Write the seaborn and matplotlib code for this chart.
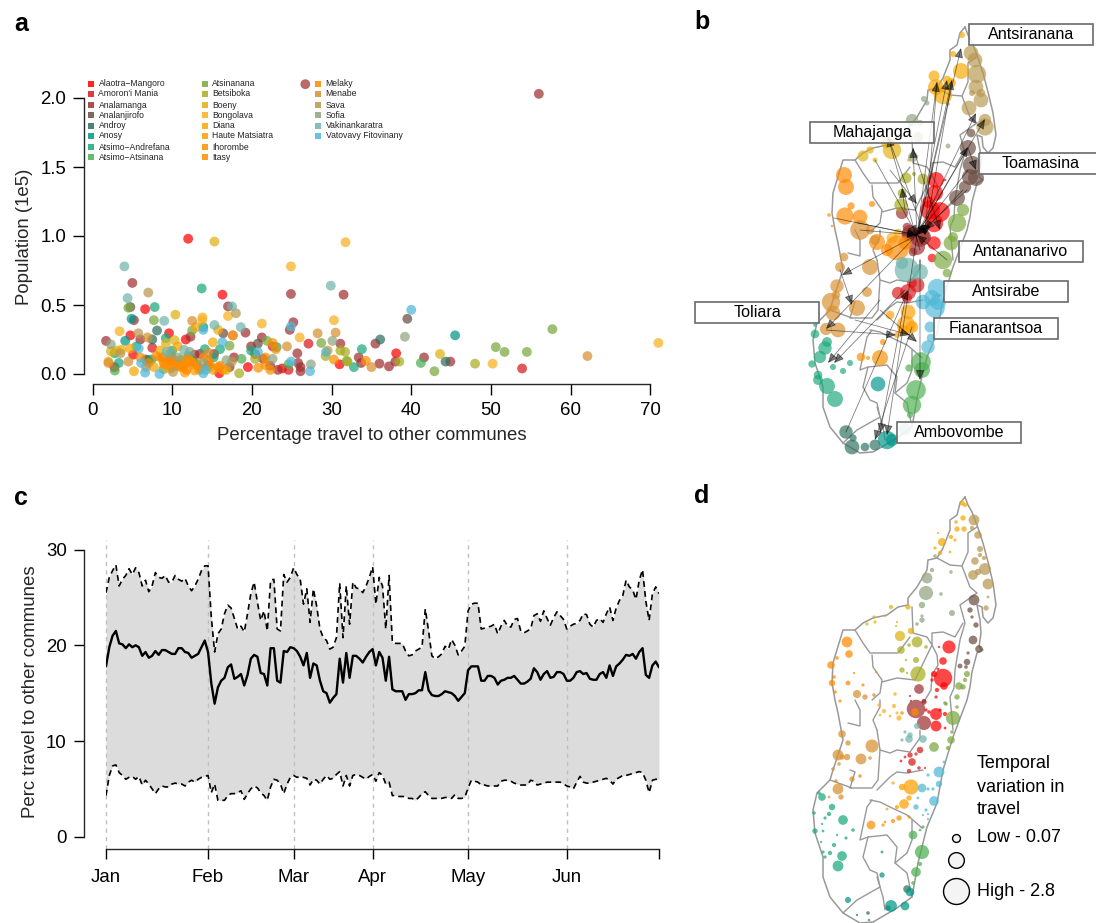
import numpy as np
import pandas as pd
import matplotlib
matplotlib.use('Agg')
import matplotlib.pyplot as plt
from matplotlib.patches import Rectangle
import seaborn as sns

regions = ['Alaotra\u2212Mangoro', "Amoron'i Mania", 'Analamanga', 'Analanjirofo', 'Androy', 'Anosy',
           'Atsimo\u2212Andrefana', 'Atsimo\u2212Atsinana', 'Atsinanana', 'Betsiboka', 'Boeny', 'Bongolava',
           'Diana', 'Haute Matsiatra', 'Ihorombe', 'Itasy', 'Melaky', 'Menabe', 'Sava', 'Sofia',
           'Vakinankaratra', 'Vatovavy Fitovinany']
region_colors = ['#ff0000', '#d7191c', '#a03030', '#6b4c40', '#2f6f5f', '#009688', '#1aa87a', '#4caf50',
                 '#7aa83c', '#a8ac20', '#e0b010', '#f8b020', '#f8a800', '#ff9f00', '#f89000', '#ff8c00',
                 '#ff8800', '#d89030', '#b89850', '#90a480', '#70b4ac', '#50b8d8']

# panel a, one inner list per region
a_pct = [
    [12.0, 16.3, 6.6, 9.6, 11.7, 4.75, 5.1, 2.75, 19.5, 31.0, 23.8, 15.9, 38.1],
    [27.1, 24.6, 7.5, 53.9, 22.6, 17.6],
    [24.9, 31.5, 5.0, 17.0, 25.2, 24.75, 21.25, 19.2, 12.3, 6.0, 1.7, 19.9, 25.7, 31.1, 35.5, 33.4, 33.7, 36.0,
     25.8, 26.1, 26.1, 23.25, 17.75, 17.2, 14.5, 15.25, 13.5, 12.8, 21.4, 22.3, 5.2, 37.2, 38.0, 41.6, 44.9, 56.0, 26.7],
    [39.5, 4.75, 16.4, 20.75, 20.4, 6.7],
    [8.1, 7.5, 36.1, 44.3, 12.6, 7.0],
    [45.5, 13.9, 4.9, 4.1],
    [13.7, 7.8, 5.5, 9.2, 32.8, 33.8, 23.1, 16.0, 19.9, 14.1, 10.0, 3.3, 2.8, 7.4, 15.2, 12.0],
    [41.2, 2.8, 24.6, 18.7, 9.9, 11.0],
    [57.7, 50.6, 51.7, 54.5, 42.9, 7.7, 4.5, 17.2, 31.9, 12.5, 21.9, 28.7, 8.9, 13.0],
    [48.0, 18.4, 38.5, 32.0, 31.7, 31.1, 20.4, 29.25, 10.7, 14.8],
    [15.3, 10.4, 2.3, 43.6, 10.3, 9.2, 8.5, 11.2, 3.0, 16.8],
    [71.0, 24.9, 31.75, 21.25, 26.0, 3.4, 50.2, 30.3, 17.0, 17.6, 13.8, 13.75],
    [5.2, 7.7, 13.0, 15.1, 15.75, 10.3, 8.5, 4.7, 3.6, 2.0],
    [10.7, 11.6, 12.8, 12.4, 10.5, 9.3, 9.7, 11.4, 15.1, 16.4],
    [20.8, 21.7, 22.3, 21.7, 22.6, 23.0, 30.3, 29.5, 11.8, 12.6, 13.4, 8.9, 9.9],
    [34.3, 14.0, 8.0, 9.0, 12.0, 13.2, 11.0, 6.0, 10.5, 11.2, 12.2, 13.6, 9.6, 10.0, 14.7, 15.8],
    [10.0, 11.8, 8.8, 7.0, 16.0, 14.5],
    [12.5, 24.4, 28.25, 30.5, 35.0, 62.1, 4.5, 2.0, 6.9, 14.5],
    [7.0, 18.0, 5.75, 10.1, 6.7, 3.5, 17.5],
    [2.3, 30.1, 27.4, 22.6, 39.2, 13.9, 9.7, 16.8, 10.8, 12.2],
    [4.0, 4.4, 29.9, 9.0, 18.6, 15.3, 17.5, 11.5, 9.3],
    [40.0, 27.3, 24.9, 13.9, 16.3, 6.6, 8.4, 13.9, 6.1, 20.75, 24.9, 14.2, 5.8, 29.3],
]
a_pop = [
    [0.98, 0.575, 0.47, 0.295, 0.25, 0.28, 0.14, 0.05, 0.05, 0.07, 0.04, 0.005, 0.15],
    [0.22, 0.03, 0.19, 0.04, 0.20, 0.28],
    [0.58, 0.575, 0.66, 0.49, 0.375, 0.32, 0.265, 0.30, 0.27, 0.25, 0.24, 0.20, 0.15, 0.22, 0.22, 0.12, 0.08, 0.075,
     0.08, 0.05, 0.02, 0.03, 0.12, 0.05, 0.06, 0.145, 0.145, 0.14, 0.11, 0.06, 0.39, 0.055, 0.09, 0.12, 0.09, 2.03, 2.10],
    [0.40, 0.485, 0.295, 0.22, 0.145, 0.105],
    [0.315, 0.25, 0.25, 0.09, 0.09, 0.10],
    [0.28, 0.34, 0.40, 0.24],
    [0.62, 0.485, 0.20, 0.26, 0.05, 0.18, 0.195, 0.18, 0.17, 0.18, 0.17, 0.08, 0.15, 0.105, 0.12, 0.13],
    [0.08, 0.025, 0.07, 0.11, 0.125, 0.10],
    [0.325, 0.195, 0.16, 0.16, 0.02, 0.39, 0.48, 0.205, 0.095, 0.315, 0.24, 0.225, 0.035, 0.08],
    [0.075, 0.005, 0.09, 0.09, 0.16, 0.17, 0.11, 0.13, 0.06, 0.05],
    [0.96, 0.43, 0.165, 0.145, 0.245, 0.22, 0.12, 0.10, 0.17, 0.03],
    [0.225, 0.78, 0.955, 0.365, 0.265, 0.31, 0.075, 0.39, 0.42, 0.28, 0.41, 0.39],
    [0.02, 0.05, 0.34, 0.23, 0.32, 0.08, 0.17, 0.185, 0.175, 0.09],
    [0.20, 0.01, 0.025, 0.09, 0.09, 0.065, 0.04, 0.05, 0.03, 0.03],
    [0.045, 0.065, 0.03, 0.12, 0.225, 0.18, 0.105, 0.17, 0.10, 0.07, 0.03, 0.09, 0.11],
    [0.095, 0.12, 0.13, 0.07, 0.11, 0.06, 0.05, 0.12, 0.08, 0.06, 0.09, 0.04, 0.10, 0.05, 0.07, 0.05],
    [0.10, 0.03, 0.12, 0.08, 0.06, 0.10],
    [0.385, 0.20, 0.295, 0.30, 0.05, 0.13, 0.09, 0.08, 0.265, 0.155],
    [0.59, 0.44, 0.295, 0.015, 0.05, 0.15, 0.09],
    [0.215, 0.24, 0.07, 0.11, 0.27, 0.08, 0.15, 0.10, 0.12, 0.16],
    [0.78, 0.55, 0.64, 0.385, 0.34, 0.355, 0.49, 0.175, 0.16],
    [0.465, 0.02, 0.345, 0.32, 0.23, 0.01, 0.0, 0.005, 0.08, 0.16, 0.09, 0.03, 0.185, 0.16],
]

# panel c, daily values
month_names = ['Jan', 'Feb', 'Mar', 'Apr', 'May', 'Jun']
month_days = [0, 31, 57, 81, 110, 140]
last_day = 168
perc_median = [
    17.8, 19.8, 21.0, 21.5, 20.2, 20.1, 19.7, 20.1, 19.8, 20.0, 19.8, 18.9, 19.3, 18.7, 18.9, 19.4, 19.0, 19.5,
    19.5, 19.3, 19.1, 19.1, 19.7, 19.7, 19.3, 19.2, 18.7, 18.9, 19.1, 19.8, 20.5,
    19.3, 16.0, 13.9, 15.6, 16.3, 16.6, 17.7, 18.0, 16.5, 16.7, 17.0, 15.8, 16.9, 18.6, 19.0, 18.8, 17.1, 17.0,
    15.8, 19.7, 19.7, 16.3, 16.1, 19.4, 19.3, 19.8,
    19.7, 19.4, 18.8, 17.9, 19.2, 16.6, 18.1, 17.9, 16.3, 15.2, 15.0, 14.0, 14.5, 14.9, 18.6, 16.1, 19.2,
    16.6, 18.9, 18.9, 18.6, 18.2, 18.8, 19.3,
    19.6, 17.9, 19.3, 18.7, 16.3, 18.8, 15.4, 15.2, 15.2, 15.2, 14.3, 14.9, 14.9, 15.0, 15.3, 15.3, 17.2, 15.3,
    14.8, 14.7, 14.7, 14.9, 15.2, 15.1, 15.0, 14.7, 14.2, 14.6, 15.0,
    17.4, 17.8, 17.8, 17.8, 16.3, 16.3, 16.8, 16.8, 16.6, 15.9, 16.3, 16.4, 16.6, 16.6, 16.8, 16.4, 16.0, 16.0,
    16.2, 16.5, 17.6, 17.2, 16.4, 17.0, 17.3, 16.6, 16.7, 17.2, 17.2, 17.0,
    16.3, 16.3, 16.6, 17.2, 17.3, 17.0, 17.1, 16.5, 16.4, 16.4, 17.0, 17.2, 16.6, 17.9, 16.8, 17.8, 18.1, 18.5,
    19.0, 18.9, 19.1, 18.6, 19.3, 19.7, 16.9, 16.6, 17.9, 18.3, 17.7,
]
perc_upper = [
    25.5, 27.1, 27.8, 28.4, 26.2, 26.9, 27.3, 28.0, 27.4, 28.1, 27.6, 26.2, 26.8, 25.6, 26.2, 27.6, 27.1, 27.0,
    27.3, 26.6, 26.6, 27.3, 26.9, 26.7, 27.0, 26.2, 25.7, 26.2, 26.9, 27.8, 28.3,
    28.3, 22.9, 19.3, 21.2, 21.7, 23.3, 24.2, 23.9, 22.8, 21.7, 22.0, 21.4, 23.3, 25.4, 26.6, 24.5, 22.6, 23.6,
    21.5, 26.8, 26.9, 21.7, 21.5, 27.4, 26.6, 27.1,
    28.1, 27.4, 26.9, 24.3, 25.9, 22.4, 25.9, 24.1, 21.7, 20.8, 20.5, 19.6, 19.8, 20.8, 26.5, 20.8, 26.2, 22.2,
    26.6, 26.0, 25.9, 25.5, 26.2, 27.1,
    28.2, 24.3, 27.1, 26.2, 21.7, 27.3, 20.3, 20.2, 20.2, 20.2, 19.4, 18.9, 19.0, 19.4, 19.6, 19.8, 23.8, 21.5,
    18.9, 18.6, 18.8, 19.1, 19.9, 19.6, 20.6, 20.0, 19.0, 19.4, 19.9,
    23.6, 24.3, 24.4, 24.4, 21.7, 21.8, 21.9, 22.0, 22.2, 21.2, 22.0, 22.6, 22.0, 21.9, 22.7, 22.8, 21.5, 21.3,
    21.5, 21.7, 23.1, 23.3, 22.5, 23.6, 22.8, 22.1, 22.9, 23.5, 23.1, 22.7,
    21.7, 22.0, 22.2, 22.3, 22.6, 23.3, 23.2, 22.2, 21.9, 22.6, 22.8, 22.4, 23.3, 24.0, 22.6, 23.9, 24.7, 25.2,
    26.8, 26.1, 25.8, 24.8, 26.8, 27.9, 24.6, 22.6, 25.4, 26.1, 25.4,
]
perc_lower = [
    4.3, 6.4, 7.4, 7.5, 6.7, 6.4, 6.0, 6.2, 6.3, 6.0, 6.3, 5.4, 5.9, 5.5, 5.0, 4.5, 5.0, 5.3,
    5.2, 5.2, 5.5, 5.6, 5.5, 5.5, 5.3, 5.7, 5.9, 5.7, 6.0, 6.2, 6.3,
    6.4, 4.6, 5.5, 3.8, 3.8, 3.8, 4.3, 4.5, 4.5, 4.6, 4.8, 3.9, 4.5, 5.0, 5.3, 5.1, 4.6, 4.3,
    3.8, 5.2, 6.0, 5.9, 5.5, 4.5, 5.5, 6.2,
    6.4, 6.2, 6.3, 6.2, 6.1, 5.4, 6.0, 5.9, 5.5, 6.0, 6.4, 6.0, 6.1, 6.5, 6.8, 5.3, 6.4, 5.3,
    6.4, 6.5, 6.4, 6.2, 6.0, 6.3,
    6.5, 5.8, 6.7, 6.4, 5.5, 5.7, 4.3, 4.3, 4.2, 4.2, 4.2, 4.0, 4.0, 3.8, 4.1, 4.5, 4.7, 4.3,
    4.0, 4.0, 4.0, 4.0, 4.1, 4.1, 4.0, 4.4, 4.0, 4.0, 4.1,
    5.1, 5.9, 5.8, 5.7, 5.4, 5.4, 5.3, 5.3, 5.3, 5.3, 5.8, 5.9, 5.9, 5.8, 5.6, 5.5, 5.4, 5.4,
    5.4, 5.9, 5.8, 5.4, 5.5, 5.6, 5.7, 5.7, 5.7, 5.7, 5.7, 5.5,
    5.3, 5.2, 5.0, 5.7, 6.3, 5.7, 5.6, 5.6, 5.7, 5.8, 5.9, 6.0, 6.1, 5.9, 5.5, 6.0, 6.2, 6.4,
    6.4, 6.5, 6.6, 6.7, 6.8, 6.7, 5.9, 4.6, 5.9, 6.0, 6.0,
]

# map outlines, same coordinates for panels b and d
coast_x = [965, 968, 972, 978, 983, 988, 993, 996, 993, 988, 983, 982, 977, 980, 981, 979, 983, 977, 972, 970, 967,
           953, 943, 937, 927, 918, 912, 897, 873, 860, 843, 830, 823, 823, 815, 813, 817, 830, 833, 843, 838, 835,
           832, 833, 843, 855, 863, 873, 887, 898, 908, 908, 917, 927, 928, 937, 943, 950, 950, 957, 960, 965]
coast_y = [497, 505, 512, 528, 543, 562, 583, 605, 618, 623, 617, 607, 605, 620, 633, 647, 650, 653, 672, 687, 700,
           737, 770, 803, 827, 863, 897, 908, 922, 923, 913, 897, 877, 857, 833, 810, 793, 780, 770, 740, 713, 700,
           683, 663, 630, 630, 623, 618, 615, 607, 605, 598, 587, 570, 560, 558, 548, 530, 520, 515, 503, 497]
border_x = [
    [937, 950, 962, 968, 968, 977],
    [962, 970, 977, 960, 965, 960, 955, 954, 950, 953],
    [912, 913, 927, 932, 932, 943, 955, 963],
    [855, 863, 870, 887, 898, 910],
    [872, 873, 882, 880, 872],
    [882, 897, 915, 932, 937, 938, 932, 931, 925],
    [848, 860, 860, 855],
    [877, 873, 880, 880],
    [877, 880, 890, 897, 910, 920, 920],
    [880, 878, 872, 850, 855, 850],
    [923, 907, 897, 890, 877],
    [872, 867, 860, 868, 887, 897, 895, 907, 912],
    [868, 863, 870, 877, 880, 857, 843],
    [877, 883, 885],
    [870, 880, 890, 907, 913, 922],
    [912, 912, 907, 895],
    [852, 830],
]
border_y = [
    [558, 565, 566, 552, 533, 527],
    [566, 587, 593, 605, 623, 640, 670, 688, 697, 730],
    [607, 633, 637, 645, 633, 632, 637, 623],
    [630, 643, 653, 653, 653, 637],
    [655, 667, 680, 693, 700],
    [682, 678, 680, 645, 655, 665, 675, 690, 700],
    [723, 726, 710, 700],
    [730, 720, 707, 700],
    [730, 750, 753, 750, 752, 738, 730],
    [750, 780, 788, 788, 772, 770],
    [770, 773, 772, 777, 790],
    [800, 807, 840, 837, 835, 847, 863, 873, 897],
    [837, 857, 870, 873, 887, 900, 913],
    [877, 897, 910],
    [800, 802, 807, 815, 820, 828],
    [820, 840, 853, 863],
    [788, 780],
]

# panel b
b_x = [
    [936, 935, 930, 940, 934, 945, 934, 932, 928],
    [898, 908, 917, 907, 912],
    [902, 907, 910, 920, 908, 923, 917, 913],
    [971, 968, 972, 976, 970, 957, 965],
    [846, 853, 852, 865, 875],
    [878, 887, 892],
    [815, 827, 825, 820, 812, 833, 850, 843, 818, 818, 827, 835, 815],
    [921, 922, 916, 912, 909, 910],
    [963, 957, 953, 951, 943, 947],
    [906, 923, 914, 902, 901],
    [887, 892, 863, 870, 875, 909],
    [892, 898],
    [962, 961, 934, 953, 936, 943, 951, 947],
    [908, 906, 912, 903, 890, 897],
    [883, 880, 861, 868],
    [897, 887, 905, 877],
    [844, 846, 851, 872, 845, 860, 829, 832],
    [860, 870, 875, 870, 844, 840, 837, 867, 831, 836, 833, 857, 838, 826],
    [971, 975, 977, 976, 981, 981, 969, 985, 972, 985],
    [924, 927, 912, 920, 918, 948, 948, 913],
    [907, 920, 902, 905],
    [937, 932, 938, 935, 923, 930, 931, 928],
]
b_y = [
    [650, 663, 680, 682, 693, 650, 713, 728, 672],
    [763, 762, 755, 768, 753],
    [683, 697, 703, 707, 705, 707, 717, 722],
    [603, 618, 635, 648, 647, 668, 657],
    [902, 908, 917, 917, 915],
    [854, 910, 910],
    [804, 812, 818, 827, 834, 837, 833, 841, 845, 850, 856, 869, 795],
    [832, 840, 860, 875, 838, 885],
    [680, 693, 707, 713, 730, 743],
    [648, 649, 644, 663, 675],
    [612, 620, 626, 620, 630, 630],
    [708, 703],
    [505, 541, 546, 524, 557, 565, 553, 550],
    [782, 795, 797, 800, 785, 805],
    [812, 828, 827, 828],
    [718, 720, 713, 712],
    [645, 657, 676, 674, 686, 687, 685, 696],
    [700, 700, 710, 737, 727, 737, 756, 762, 772, 765, 783, 778, 800, 799],
    [523, 530, 544, 557, 570, 563, 578, 597, 563, 590],
    [569, 573, 590, 593, 607, 616, 574, 627],
    [740, 742, 733, 899],
    [758, 768, 772, 778, 772, 797, 808, 817],
]
b_weight = [
    [0.76, 0.76, 1.15, 1.15, 1.01, 0.02, 0.54, 0.22, 0.40],
    [0.45, 0.76, 0.65, 0.29, 0.29],
    [0.45, 0.22, 0.76, 1.15, 0.54, 0.76, 0.76, 0.22],
    [0.22, 0.76, 1.01, 0.76, 0.76, 0.76, 0.45],
    [0.54, 0.16, 0.65, 0.22, 0.36],
    [0.65, 1.01, 0.45],
    [0.22, 0.29, 0.54, 0.45, 0.16, 0.11, 0.11, 0.11, 0.22, 0.29, 0.76, 0.76, 0.04],
    [1.15, 0.76, 1.15, 1.01, 0.16, 0.11],
    [0.45, 1.01, 0.29, 0.65, 1.01, 0.22],
    [0.36, 0.36, 0.05, 0.22, 0.54],
    [0.45, 1.01, 0.36, 0.16, 0.07, 0.04],
    [0.36, 0.22],
    [0.11, 0.76, 0.36, 0.11, 0.76, 1.01, 0.29, 0.22],
    [0.65, 1.01, 0.45, 0.29, 0.22, 0.11],
    [0.11, 0.76, 0.22, 0.05],
    [1.79, 0.45, 0.54, 0.76],
    [0.76, 0.76, 0.16, 0.11, 0.88, 0.65, 0.04, 0.02],
    [1.15, 0.22, 0.29, 0.76, 0.22, 0.29, 0.54, 0.29, 1.01, 0.22, 0.65, 0.76, 0.65, 0.45],
    [0.65, 0.65, 1.01, 0.65, 0.65, 0.22, 0.65, 0.88, 0.11, 0.45],
    [0.11, 0.07, 0.45, 0.11, 0.29, 0.07, 0.04, 0.29],
    [1.79, 0.76, 0.45, 0.45],
    [1.01, 0.76, 0.76, 1.15, 0.65, 0.36, 0.22, 0.54],
]

# flows between communes in panel b
flow_from_x = [917, 917, 917, 917, 917, 968, 967, 860, 917, 905, 912, 846, 920, 875, 888, 913, 917, 952, 834, 937,
               858, 917, 963, 917, 947, 920, 880, 826, 917, 905, 855, 968, 840, 880, 917, 905, 890]
flow_from_y = [705, 705, 705, 705, 705, 640, 660, 700, 705, 770, 797, 902, 730, 630, 607, 618, 705, 550, 688, 552,
               693, 705, 660, 705, 730, 720, 770, 800, 705, 760, 790, 618, 740, 780, 705, 680, 640]
flow_to_x = [937, 952, 947, 961, 826, 917, 917, 917, 887, 880, 875, 908, 920, 917, 925, 940, 968, 925, 917, 925,
             917, 976, 925, 985, 917, 888, 828, 896, 913, 834, 910, 976, 852, 917, 842, 902, 917]
flow_to_y = [552, 550, 550, 518, 799, 705, 705, 705, 905, 903, 910, 760, 850, 705, 705, 700, 617, 705, 705, 705,
             705, 583, 700, 589, 705, 607, 833, 805, 618, 833, 805, 640, 775, 812, 745, 658, 674]

city_names = ['Antsiranana', 'Mahajanga', 'Toamasina', 'Antananarivo', 'Antsirabe', 'Fianarantsoa', 'Toliara', 'Ambovombe']
city_left = [969, 810, 979, 959, 944, 934, 695, 897]
city_top = [24, 122, 153, 241, 281, 318, 302, 422]

# panel d
d_x = [
    [949, 943, 939, 943, 934, 944, 937, 932, 938, 936, 936, 936, 926, 929, 945, 940, 945],
    [920, 910, 916, 905, 912, 901, 909, 919, 925],
    [919, 924, 916, 924, 910, 911, 924],
    [974, 970, 972, 976, 973, 979, 968, 967, 960, 966],
    [907, 868, 888, 857, 869],
    [910, 891, 905, 882, 848, 882],
    [819, 822, 832, 814, 829, 843, 825, 822, 853, 815, 823, 846, 834, 821, 830, 842, 823, 825, 838, 837],
    [923, 920, 913, 922, 920, 916, 913],
    [967, 965, 959, 963, 957, 945, 957, 946, 953, 952, 951, 934, 948],
    [917, 909, 926, 901, 916, 906, 902, 918, 907],
    [891, 908, 874, 885, 875, 867, 897, 896, 900, 911],
    [879, 895, 894, 884, 880, 890, 899, 897],
    [962, 965, 956, 963, 957, 964, 938, 951, 955, 942, 935, 940, 950],
    [911, 902, 893, 904, 909, 897, 887],
    [899, 893, 885, 883, 871, 909],
    [915, 902],
    [847, 849, 837, 831, 854, 834, 832, 848, 863, 876, 840, 835],
    [857, 865, 874, 842, 848, 872, 838, 842, 847, 861, 870, 839, 833, 852, 860, 836, 838, 841, 829],
    [974, 972, 978, 980, 980, 984, 975, 985, 978, 973, 988, 988, 986],
    [935, 927, 926, 941, 922, 922, 922, 917, 952, 951, 932],
    [917, 905, 910, 902, 909, 923],
    [944, 939, 928, 939, 922, 928, 933, 934, 918, 916, 926, 928, 923, 928],
]
d_y = [
    [647, 661, 647, 678, 674, 686, 690, 680, 669, 697, 714, 726, 710, 712, 714, 710, 728],
    [750, 755, 754, 757, 762, 761, 771, 768, 768],
    [689, 701, 709, 723, 696, 701, 702],
    [600, 610, 617, 625, 640, 649, 653, 662, 666, 667],
    [889, 913, 908, 915, 920],
    [892, 906, 906, 875, 900, 852],
    [793, 797, 807, 813, 814, 820, 818, 824, 830, 831, 831, 838, 845, 842, 853, 856, 852, 857, 866, 835],
    [827, 830, 835, 852, 864, 872, 883],
    [674, 680, 686, 687, 697, 703, 707, 704, 718, 732, 740, 747, 748],
    [642, 645, 647, 650, 660, 660, 670, 674, 673],
    [607, 607, 617, 616, 622, 624, 622, 626, 636, 631],
    [705, 694, 706, 711, 715, 716, 718, 713],
    [503, 505, 522, 518, 529, 529, 533, 537, 540, 542, 548, 553, 552],
    [787, 787, 783, 804, 798, 807, 809],
    [818, 821, 822, 825, 825, 817],
    [712, 713],
    [642, 654, 658, 665, 673, 677, 683, 683, 685, 672, 701, 692],
    [694, 697, 695, 734, 743, 746, 755, 757, 757, 759, 758, 764, 769, 779, 776, 781, 789, 797, 797],
    [520, 528, 535, 549, 555, 558, 561, 569, 572, 575, 584, 597, 608],
    [556, 578, 593, 594, 605, 616, 620, 624, 613, 572, 570],
    [726, 732, 735, 740, 739, 739],
    [762, 772, 775, 784, 788, 789, 789, 801, 798, 807, 810, 814, 815, 819],
]
d_variation = [
    [0.65, 0.22, 0.02, 1.30, 0.14, 0.22, 0.07, 0.04, 0.03, 0.04, 0.54, 0.45, 0.04, 0.05, 0.07, 0.04, 0.03],
    [0.16, 0.11, 0.04, 0.03, 0.22, 0.03, 0.07, 0.05, 0.02],
    [0.36, 0.07, 1.30, 0.76, 0.02, 0.02, 0.11],
    [0.45, 0.11, 0.04, 0.11, 0.29, 0.22, 0.04, 0.16, 0.09, 0.05],
    [0.22, 0.05, 0.11, 0.02, 0.02],
    [0.29, 0.54, 0.29, 0.11, 0.14, 0.03],
    [0.05, 0.22, 0.16, 0.05, 0.07, 0.36, 0.04, 0.02, 0.05, 0.11, 0.03, 0.04, 0.07, 0.02, 0.07, 0.36, 0.04, 0.04, 0.45, 0.02],
    [0.04, 0.03, 0.29, 0.76, 0.07, 0.36, 0.05],
    [0.14, 0.07, 0.22, 0.11, 0.11, 0.05, 0.05, 0.05, 0.76, 0.05, 0.22, 0.36, 0.07],
    [0.45, 0.05, 0.05, 0.22, 0.14, 0.02, 0.11, 0.88, 0.02],
    [0.07, 0.11, 0.04, 0.02, 0.04, 0.04, 0.02, 0.02, 0.40, 0.16],
    [0.05, 0.05, 0.07, 0.07, 0.03, 0.03, 0.11, 0.04],
    [0.11, 0.07, 0.05, 0.11, 0.11, 0.11, 0.02, 0.07, 0.04, 0.25, 0.04, 0.07, 0.03],
    [0.88, 0.16, 0.04, 0.36, 0.11, 0.07, 0.03],
    [0.11, 0.07, 0.03, 0.04, 0.29, 0.04],
    [0.22, 0.05],
    [0.45, 0.22, 0.05, 0.22, 0.02, 0.05, 0.16, 0.09, 0.04, 0.02, 0.04, 0.05],
    [0.25, 0.11, 0.05, 0.22, 0.11, 0.65, 0.45, 0.11, 0.16, 0.45, 0.05, 0.05, 0.05, 0.11, 0.05, 0.05, 0.45, 0.11, 0.03],
    [0.45, 0.07, 0.22, 0.14, 0.07, 0.07, 0.22, 0.54, 0.16, 0.36, 0.45, 0.03, 0.11],
    [0.05, 0.45, 0.76, 0.05, 0.16, 0.04, 0.11, 0.05, 0.14, 0.05, 0.07],
    [0.14, 0.04, 0.11, 0.04, 0.22, 0.22],
    [0.03, 0.45, 0.04, 0.16, 0.29, 0.04, 0.04, 0.36, 0.03, 0.11, 0.04, 0.02, 0.02, 0.02],
]
key_values = [0.07, 0.9, 2.8]
key_labels = ['Low - 0.07', '', 'High - 2.8']


def long_table(x_lists, y_lists, size_lists=None):
    rows = []
    for i, name in enumerate(regions):
        sizes = size_lists[i] if size_lists else [1] * len(x_lists[i])
        for x, y, s in zip(x_lists[i], y_lists[i], sizes):
            rows.append((name, x, y, s))
    return pd.DataFrame(rows, columns=['region', 'x', 'y', 'size'])


def add_px_axes(left, top, width, height):
    return fig.add_axes([left / 1096, 1 - (top + height) / 923, width / 1096, height / 923])


sns.set_theme(style='ticks')
plt.rcParams['font.family'] = ['Liberation Sans', 'DejaVu Sans']
plt.rcParams['axes.linewidth'] = 1.0
palette = dict(zip(regions, region_colors))
label_size = 13.4

fig = plt.figure(figsize=(10.96, 9.23), dpi=100)

# a: scatter
ax_a = add_px_axes(92.5, 74, 572, 300)
sns.scatterplot(data=long_table(a_pct, a_pop), x='x', y='y', hue='region', hue_order=regions, palette=palette,
                s=50, alpha=0.72, linewidth=0, legend=False, clip_on=False, ax=ax_a)
ax_a.set_xlim(0, 572 / 7.97)
ax_a.set_ylim(0, 300 / 138)
ax_a.set_xticks(range(0, 71, 10))
ax_a.set_yticks([0, 0.5, 1, 1.5, 2])
ax_a.set_yticklabels(['0.0', '0.5', '1.0', '1.5', '2.0'])
sns.despine(ax=ax_a, offset={'left': 6, 'bottom': 7.2}, trim=False)
ax_a.spines['left'].set_bounds(0, 2)
ax_a.spines['bottom'].set_bounds(0, 70)
ax_a.tick_params(labelsize=label_size, length=7.8, width=1, colors='black')
ax_a.tick_params(axis='x', pad=5.5)
ax_a.tick_params(axis='y', pad=5)
ax_a.set_xlabel('Percentage travel to other communes', fontsize=label_size)
ax_a.set_ylabel('Population (1e5)', fontsize=label_size)
ax_a.xaxis.set_label_coords(0.489, -0.178)
ax_a.yaxis.set_label_coords(-0.104, 0.457)

# c: daily band
days = np.arange(len(perc_median))
ax_c = add_px_axes(106, 536.7, 553, 300)
ax_c.fill_between(days, perc_lower, perc_upper, color='#dcdcdc', linewidth=0)
ax_c.vlines(month_days, -1.25, 31, color='#c0c0c0', linewidth=1, linestyles=(0, (3, 3)), clip_on=False)
sns.lineplot(x=days, y=perc_upper, color='black', linewidth=1.2, linestyle=(0, (3.5, 2.5)), ax=ax_c)
sns.lineplot(x=days, y=perc_lower, color='black', linewidth=1.2, linestyle=(0, (3.5, 2.5)), ax=ax_c)
sns.lineplot(x=days, y=perc_median, color='black', linewidth=1.7, ax=ax_c)
ax_c.set_xlim(0, last_day)
ax_c.set_ylim(0, 300 / 9.57)
ax_c.set_xticks(month_days + [last_day])
ax_c.set_xticklabels(month_names + [''])
ax_c.set_yticks([0, 10, 20, 30])
sns.despine(ax=ax_c, offset={'left': 15.8, 'bottom': 8.6}, trim=False)
ax_c.spines['left'].set_bounds(0, 30)
ax_c.spines['bottom'].set_bounds(0, last_day)
ax_c.tick_params(labelsize=label_size, length=7.5, width=1, colors='black')
ax_c.tick_params(axis='x', pad=7)
ax_c.tick_params(axis='y', pad=5)
ax_c.set_xlabel('')
ax_c.set_ylabel('Perc travel to other communes', fontsize=label_size)
ax_c.yaxis.set_label_coords(-0.121, 0.482)

# b and d: maps
map_b = add_px_axes(690, 10, 406, 460)
map_d = add_px_axes(690, 480, 406, 443)
for ax in (map_b, map_d):
    ax.plot(coast_x, coast_y, color='#999999', linewidth=1.1, solid_joinstyle='round', zorder=1)
    for bx, by in zip(border_x, border_y):
        ax.plot(bx, by, color='#999999', linewidth=1.0, zorder=1)

sns.scatterplot(data=long_table(b_x, b_y, b_weight), x='x', y='y', hue='region', hue_order=regions, palette=palette,
                size='size', sizes=(0, 486), size_norm=(0, 2.8), alpha=0.68, linewidth=0, legend=False, zorder=2, ax=map_b)
sns.scatterplot(data=long_table(d_x, d_y, d_variation), x='x', y='y', hue='region', hue_order=regions, palette=palette,
                size='size', sizes=(0, 380), size_norm=(0, 2.8), alpha=0.72, linewidth=0, legend=False, zorder=2, ax=map_d)
map_b.set_xlim(690, 1096)
map_b.set_ylim(940, 480)
map_d.set_xlim(690, 1096)
map_d.set_ylim(923, 480)
for ax in (map_b, map_d):
    ax.axis('off')

for x0, y0, x1, y1 in zip(flow_from_x, flow_from_y, flow_to_x, flow_to_y):
    map_b.annotate('', xy=(x1, y1), xytext=(x0, y0), zorder=3,
                   arrowprops=dict(arrowstyle='-|>,head_length=0.5,head_width=0.22', color='black', alpha=0.5,
                                   linewidth=0.6, shrinkA=0, shrinkB=0))

# page level overlay in pixels: legend, boxes, letters
page = fig.add_axes([0, 0, 1, 1], zorder=10)
page.set_xlim(0, 1096)
page.set_ylim(923, 0)
page.axis('off')
page.patch.set_alpha(0)

legend_rows = [84, 94, 105, 115, 126, 136, 147, 157]
for i, name in enumerate(regions):
    col, row = divmod(i, 8)
    page.scatter(91 + col * 113.5, legend_rows[row], marker='s', s=14, color=region_colors[i], alpha=0.85, linewidth=0)
    page.text(98.5 + col * 113.5, legend_rows[row], name, fontsize=6.2, va='center', ha='left', color='#222222')

for name, left, top in zip(city_names, city_left, city_top):
    page.add_patch(Rectangle((left, top), 124, 21, facecolor='white', alpha=0.85, edgecolor='none', clip_on=False))
    page.add_patch(Rectangle((left, top), 124, 21, fill=False, edgecolor='#6a6a6a', linewidth=1.2, clip_on=False))
    page.text(left + 62, top + 10.5, name, fontsize=11.6, ha='center', va='center', color='black')

for letter, x, y in zip('abcd', [14, 694, 14, 694], [24, 22, 498, 496]):
    page.text(x, y, letter, fontsize=18, fontweight='bold', ha='left', va='center', color='black')

for line, y in zip(['Temporal', 'variation in', 'travel'], [764, 787, 810]):
    page.text(977, y, line, fontsize=13, ha='left', va='center', color='black')
for value, label, y in zip(key_values, key_labels, [838, 860, 891]):
    page.scatter(956, y, s=value * 324 / 2.8 + 24, facecolor='#f4f4f4', edgecolor='black', linewidth=1.0)
    if label:
        page.text(977, y, label, fontsize=13, ha='left', va='center', color='black')

fig.savefig('out.png', dpi=100)
